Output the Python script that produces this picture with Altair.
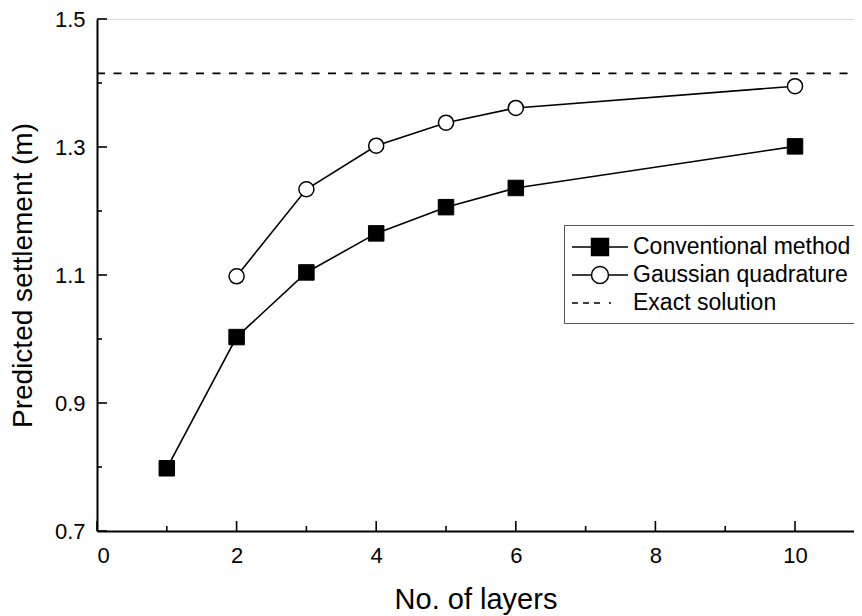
import altair as alt
import pandas as pd

# ---- data ----
layers_conv = [1, 2, 3, 4, 5, 6, 10]
settle_conv = [0.798, 1.003, 1.104, 1.165, 1.206, 1.236, 1.301]
layers_gauss = [2, 3, 4, 5, 6, 10]
settle_gauss = [1.098, 1.234, 1.302, 1.338, 1.361, 1.395]
exact_value = [1.415]
series_names = ["Conventional method", "Gaussian quadrature", "Exact solution"]

x_major = [0, 2, 4, 6, 8, 10]
x_minor = [1, 3, 5, 7, 9]
y_major = [0.7, 0.9, 1.1, 1.3, 1.5]
y_minor = [0.8, 1.0, 1.2, 1.4]

W, H = 757, 512
FONT = "Liberation Sans"

conv = pd.DataFrame({"x": layers_conv, "y": settle_conv})
gauss = pd.DataFrame({"x": layers_gauss, "y": settle_gauss})
exact = pd.DataFrame({"y": exact_value})
legend_df = pd.DataFrame({"series": series_names})

xs = alt.Scale(domain=[0, 10.845], nice=False, zero=False)
ys = alt.Scale(domain=[0.7, 1.5], nice=False, zero=False)

x_axis = alt.Axis(values=x_major, format="d", ticks=False, grid=False, domain=True,
                  domainColor="black", domainWidth=2, labelFont=FONT,
                  labelFontSize=22, labelColor="black", labelPadding=14,
                  title="No. of layers", titleFont=FONT, titleFontSize=29,
                  titleFontWeight="normal", titleColor="black", titlePadding=19)
y_axis = alt.Axis(values=y_major, format=".1f", ticks=False, grid=False, domain=True,
                  domainColor="black", domainWidth=2, labelFont=FONT,
                  labelFontSize=22, labelColor="black", labelPadding=12,
                  title="Predicted settlement (m)", titleFont=FONT, titleFontSize=28,
                  titleFontWeight="normal", titleColor="black", titlePadding=17)

X = alt.X("x:Q", scale=xs, axis=x_axis)
Y = alt.Y("y:Q", scale=ys, axis=y_axis)

base_axes = alt.Chart(conv).mark_point(opacity=0).encode(x=X, y=Y)

# inward ticks
xmaj = alt.Chart(pd.DataFrame({"x": x_major})).mark_rule(color="black", strokeWidth=1.6).encode(
    x=X, y=alt.value(H), y2=alt.value(H - 10))
xmin = alt.Chart(pd.DataFrame({"x": x_minor})).mark_rule(color="black", strokeWidth=1.6).encode(
    x=X, y=alt.value(H), y2=alt.value(H - 5))
ymaj = alt.Chart(pd.DataFrame({"y": y_major})).mark_rule(color="black", strokeWidth=1.6).encode(
    y=Y, x=alt.value(0), x2=alt.value(10))
ymin = alt.Chart(pd.DataFrame({"y": y_minor})).mark_rule(color="black", strokeWidth=1.6).encode(
    y=Y, x=alt.value(0), x2=alt.value(5))

exact_rule = alt.Chart(exact).mark_rule(color="black", strokeWidth=1.6, strokeDash=[8, 8.5]).encode(
    y=Y, x=alt.value(0), x2=alt.value(W))

conv_line = alt.Chart(conv).mark_line(color="black", strokeWidth=1.6).encode(x=X, y=Y)
conv_pts = alt.Chart(conv).mark_point(shape="square", filled=True, fill="black", stroke="black",
                                      strokeWidth=1, size=240, opacity=1).encode(x=X, y=Y)
gauss_line = alt.Chart(gauss).mark_line(color="black", strokeWidth=1.6).encode(x=X, y=Y)
gauss_pts = alt.Chart(gauss).mark_point(shape="circle", filled=True, fill="white", stroke="black",
                                        strokeWidth=1.5, size=227, opacity=1).encode(x=X, y=Y)

# legend symbols: line + marker drawn as custom paths (unit = 13 px)
p_conv = "M-2.154,0H-0.65M0.65,0H2.154M-0.65,-0.65H0.65V0.65H-0.65Z"
p_gauss = ("M-2.154,0H-0.654M0.654,0H2.154"
           "M-0.654,0A0.654,0.654,0,1,0,0.654,0A0.654,0.654,0,1,0,-0.654,0Z")
p_exact = "M-2.154,0H-1.692M-1.308,0H-0.846M-0.462,0H0M0.692,0H0.846"

legend_opts = dict(title=None, orient="none", legendX=467, legendY=206,
                   labelFont=FONT, labelFontSize=23, labelColor="black", labelLimit=500,
                   labelOffset=19, symbolOffset=14, symbolSize=676,
                   symbolStrokeColor="black", symbolStrokeWidth=1.5,
                   rowPadding=2, padding=8, strokeColor="#555",
                   fillColor="white", cornerRadius=0)

legend_layer = alt.Chart(legend_df).transform_filter("false").mark_point(
    filled=True, strokeWidth=1.5, size=676, opacity=1
).encode(
    shape=alt.Shape("series:N", scale=alt.Scale(domain=series_names, range=[p_conv, p_gauss, p_exact]),
                    legend=alt.Legend(**legend_opts)),
    fill=alt.Fill("series:N", scale=alt.Scale(domain=series_names, range=["black", "white", "transparent"]),
                  legend=alt.Legend(**legend_opts)),
    stroke=alt.Stroke("series:N", scale=alt.Scale(domain=series_names, range=["black", "black", "black"]),
                      legend=alt.Legend(**legend_opts)),
)

chart = alt.layer(
    base_axes, xmaj, xmin, ymaj, ymin, exact_rule,
    conv_line, gauss_line, conv_pts, gauss_pts, legend_layer
).properties(
    width=W, height=H,
    autosize=alt.AutoSizeParams(type="none"),
    padding={"left": 89, "top": 11, "right": 0, "bottom": 85},
).configure_view(stroke=None).configure(background="white")

chart.save("out.html", embed_options={"renderer": "svg", "actions": False})
